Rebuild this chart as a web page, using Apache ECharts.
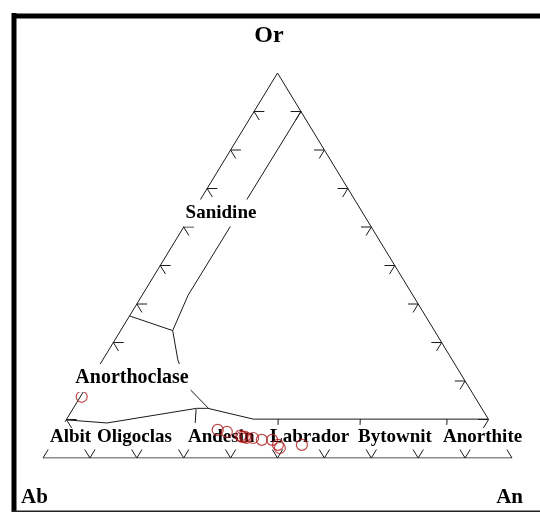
<!DOCTYPE html>
<html>
<head>
<meta charset="utf-8">
<script src="https://cdn.jsdelivr.net/npm/echarts@6.0.0/dist/echarts.min.js"></script>
<style>
html, body { margin: 0; padding: 0; background: #fff; }
#main { width: 540px; height: 512px; }
</style>
</head>
<body>
<div id="main"></div>
<script>
var cornerNames = ['Ab', 'An', 'Or'];
var alkaliNames = ['Sanidine', 'Anorthoclase'];
var fieldNames = ['Albit', 'Oligoclas', 'Andesin', 'Labrador', 'Bytownit', 'Anorthite'];
var tickSteps = [0, 0.1, 0.2, 0.3, 0.4, 0.5, 0.6, 0.7, 0.8, 0.9, 1];

// samples as An and Or fractions (Ab = 1 - An - Or)
var sampleAn = [0.003, 0.336, 0.358, 0.392, 0.397, 0.403, 0.408, 0.422, 0.443, 0.465, 0.484, 0.492, 0.535];
var sampleOr = [0.159, 0.073, 0.068, 0.058, 0.055, 0.055, 0.052, 0.052, 0.047, 0.047, 0.034, 0.026, 0.034];

// field boundaries, points as [An, Or]
var outline = [
    [[0, 1], [0, 0.094]],
    [[0, 1], [0.899, 0.101]],
    [[0, 0], [1, 0]]
];
var sanidineLine = [[0.1, 0.9], [0.098, 0.423], [0.111, 0.331], [0.16, 0.255], [0.217, 0.184], [0.287, 0.13]];
var anorthoclaseLine = [[0, 0.369], [0.111, 0.331]];
var plagioclaseLine = [[0, 0.099], [0.091, 0.091], [0.263, 0.129], [0.287, 0.129], [0.398, 0.101], [0.899, 0.101]];
var plagioclaseTicks = [
    [[0.263, 0.127], [0.279, 0.091]],
    [[0.451, 0.101], [0.458, 0.086]],
    [[0.626, 0.101], [0.633, 0.086]],
    [[0.811, 0.101], [0.818, 0.086]]
];

// ternary -> plot coords (x runs Ab..An, y is Or)
function tern(an, or) {
    return [an + or / 2, or];
}
function path(pts) {
    return { coords: pts.map(function (p) { return tern(p[0], p[1]); }) };
}

var chart = echarts.init(document.getElementById('main'));

var L = 0.022;
var ticks = [];
tickSteps.forEach(function (s) {
    var v = [];
    if (s > 0) v.push(tern(s - L, L));
    v.push(tern(s, 0));
    if (s < 1) v.push(tern(s, L));
    ticks.push({ coords: v });
    if (s > 0 && s < 1) {
        ticks.push({ coords: [tern(L, s), tern(0, s), tern(L, s - L)] });
        ticks.push({ coords: [tern(1 - s - L, s), tern(1 - s, s), tern(1 - s, s - L)] });
    }
});

var lineData = outline.map(path)
    .concat([path(sanidineLine), path(anorthoclaseLine), path(plagioclaseLine)])
    .concat(plagioclaseTicks.map(path));

var points = sampleAn.map(function (a, i) { return tern(a, sampleOr[i]); });

var font = '"Liberation Serif", "DejaVu Serif", serif';
function txt(t, x, y, size, align, z, bg) {
    return {
        type: 'text', x: x, y: y, z: z,
        style: {
            text: t, fill: '#000', font: 'bold ' + size + 'px ' + font,
            align: align, verticalAlign: 'middle',
            backgroundColor: bg ? '#fff' : null, padding: bg ? [4, 2] : 0
        }
    };
}

var fieldLeft = [50, 97, 188, 270, 358, 443];
var graphics = [
    { type: 'line', z: 0, shape: { x1: 14, y1: 13, x2: 14, y2: 512 }, style: { stroke: '#000', lineWidth: 5 } },
    { type: 'line', z: 0, shape: { x1: 12, y1: 16, x2: 540, y2: 16 }, style: { stroke: '#000', lineWidth: 5 } },
    { type: 'line', z: 0, shape: { x1: 12, y1: 511.5, x2: 540, y2: 511.5 }, style: { stroke: '#222', lineWidth: 2 } },
    txt(cornerNames[2], 269, 36, 24, 'center', 5),
    txt(cornerNames[0], 21, 498, 21, 'left', 5),
    txt(cornerNames[1], 523, 498, 21, 'right', 5),
    txt(alkaliNames[0], 221, 213, 19, 'center', 50, true),
    txt(alkaliNames[1], 132, 378, 20, 'center', 50, true)
];
fieldNames.forEach(function (n, i) {
    graphics.push(txt(n, fieldLeft[i], 437, 19, 'left', 5));
});

var option = {
    animation: false,
    backgroundColor: '#fff',
    grid: { left: 43, top: 73, width: 469, height: 385 },
    xAxis: { type: 'value', min: 0, max: 1, show: false },
    yAxis: { type: 'value', min: 0, max: 1, show: false },
    graphic: graphics,
    series: [
        {
            type: 'lines',
            coordinateSystem: 'cartesian2d',
            polyline: true,
            silent: true,
            z: 2,
            lineStyle: { color: '#1a1a1a', width: 1, opacity: 1 },
            data: lineData.concat(ticks)
        },
        {
            type: 'scatter',
            z: 10,
            symbol: 'circle',
            symbolSize: 11,
            itemStyle: { color: 'rgba(0,0,0,0)', borderColor: '#b01c1c', borderWidth: 1.2 },
            data: points
        }
    ]
};
chart.setOption(option);
</script>
</body>
</html>
